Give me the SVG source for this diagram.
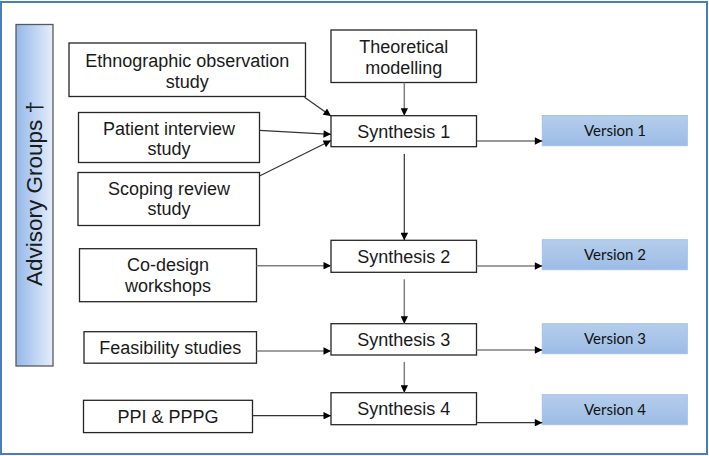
<svg xmlns="http://www.w3.org/2000/svg" width="709" height="456" viewBox="0 0 709 456">
<defs>
<linearGradient id="advGrad" x1="0" y1="0" x2="1" y2="0">
<stop offset="0" stop-color="#94b8ea"/>
<stop offset="1" stop-color="#e6eefa"/>
</linearGradient>
<linearGradient id="verGrad" x1="0" y1="0" x2="0" y2="1">
<stop offset="0" stop-color="#b5cdeb"/>
<stop offset="1" stop-color="#9cbce6"/>
</linearGradient>
<marker id="arr" viewBox="0 0 10 10" refX="10" refY="5" markerWidth="9" markerHeight="7.5" markerUnits="userSpaceOnUse" orient="auto">
<path d="M0,0 L10,5 L0,10 z" fill="#000"/>
</marker>
<style>
.box{fill:#fff;stroke:#262626;stroke-width:1.3}
.ver{fill:url(#verGrad);stroke:#a3c1ea;stroke-width:1}
.t{font-family:"Liberation Sans",Arial,sans-serif;font-size:18px;fill:#1a1a1a;text-anchor:middle}
.vt{font-family:Lato,"Liberation Sans",sans-serif;font-size:15px;fill:#111;text-anchor:middle}
.c{fill:none;stroke:#333;stroke-width:1.2;marker-end:url(#arr)}
.cg{fill:none;stroke:#7f7f7f;stroke-width:1.5;marker-end:url(#arr)}
</style>
</defs>
<rect x="1" y="2" width="706" height="452" fill="#fff" stroke="#4a7ebb" stroke-width="2"/>
<g id="advisory">
<rect x="16" y="24.5" width="37" height="341.5" fill="url(#advGrad)" stroke="#595959" stroke-width="1.3"/>
<text class="t" style="font-size:22.5px" transform="translate(42,193.5) rotate(-90)">Advisory Groups †</text>
</g>
<g id="ethnographic">
<rect class="box" x="69" y="43" width="236.5" height="53.5"/>
<text class="t" x="187.3" y="67">Ethnographic observation</text>
<text class="t" x="187.3" y="87.5">study</text>
</g>
<g id="patient">
<rect class="box" x="78.5" y="112.5" width="181" height="50"/>
<text class="t" x="169" y="134.5">Patient interview</text>
<text class="t" x="169" y="155">study</text>
</g>
<g id="scoping">
<rect class="box" x="78" y="172.5" width="181.5" height="53"/>
<text class="t" x="169" y="194.5">Scoping review</text>
<text class="t" x="169" y="215">study</text>
</g>
<g id="theoretical">
<rect class="box" x="331" y="30" width="145.5" height="52.5"/>
<text class="t" x="403.8" y="52.5">Theoretical</text>
<text class="t" x="403.8" y="73.5">modelling</text>
</g>
<g id="codesign">
<rect class="box" x="79.5" y="248.7" width="177" height="53"/>
<text class="t" x="168" y="271">Co-design</text>
<text class="t" x="168" y="291.7">workshops</text>
</g>
<g id="feasibility">
<rect class="box" x="84" y="331.7" width="172.5" height="31.5"/>
<text class="t" x="170.3" y="354.3">Feasibility studies</text>
</g>
<g id="ppi">
<rect class="box" x="83.5" y="400.3" width="169" height="32.3"/>
<text class="t" x="168" y="422.7">PPI &amp; PPPG</text>
</g>
<g id="synthesis1">
<rect class="box" x="331" y="115.7" width="145.5" height="31"/>
<text class="t" x="403.8" y="137.7">Synthesis 1</text>
</g>
<g id="synthesis2">
<rect class="box" x="331" y="240.3" width="145.5" height="32"/>
<text class="t" x="403.8" y="262.7">Synthesis 2</text>
</g>
<g id="synthesis3">
<rect class="box" x="331" y="323.7" width="145.5" height="31.3"/>
<text class="t" x="403.8" y="346">Synthesis 3</text>
</g>
<g id="synthesis4">
<rect class="box" x="331" y="392.7" width="145.5" height="32"/>
<text class="t" x="403.8" y="415">Synthesis 4</text>
</g>
<g id="version1">
<rect class="ver" x="542.3" y="115.5" width="145" height="30.2"/>
<text class="vt" x="615" y="136.3">Version 1</text>
</g>
<g id="version2">
<rect class="ver" x="542.3" y="239.7" width="145" height="30"/>
<text class="vt" x="615" y="260.3">Version 2</text>
</g>
<g id="version3">
<rect class="ver" x="542.3" y="323.7" width="145" height="30"/>
<text class="vt" x="615" y="344.3">Version 3</text>
</g>
<g id="version4">
<rect class="ver" x="542.3" y="394.7" width="145" height="30"/>
<text class="vt" x="615" y="415">Version 4</text>
</g>
<g id="connectors">
<line class="c" x1="304.5" y1="97.3" x2="331" y2="116"/>
<line class="c" x1="259.5" y1="130.3" x2="331" y2="134.3"/>
<line class="c" x1="259.5" y1="176" x2="331" y2="140.5"/>
<line class="cg" x1="404.3" y1="82.7" x2="404.3" y2="115.7"/>
<line class="c" x1="476.5" y1="141" x2="542.3" y2="141"/>
<line class="c" x1="404.3" y1="154" x2="404.3" y2="240.3"/>
<line class="cg" x1="256.5" y1="265.7" x2="331" y2="265.7"/>
<line class="cg" x1="476.5" y1="266" x2="542.3" y2="266"/>
<line class="cg" x1="404.3" y1="279.3" x2="404.3" y2="323.7"/>
<line class="cg" x1="256.5" y1="351" x2="331" y2="351"/>
<line class="cg" x1="476.5" y1="350" x2="542.3" y2="350"/>
<line class="cg" x1="404.3" y1="362" x2="404.3" y2="392.7"/>
<line class="c" x1="252.5" y1="415.7" x2="331" y2="415.7"/>
<line class="c" x1="476.5" y1="422.7" x2="542.3" y2="422.7"/>
</g>
</svg>
